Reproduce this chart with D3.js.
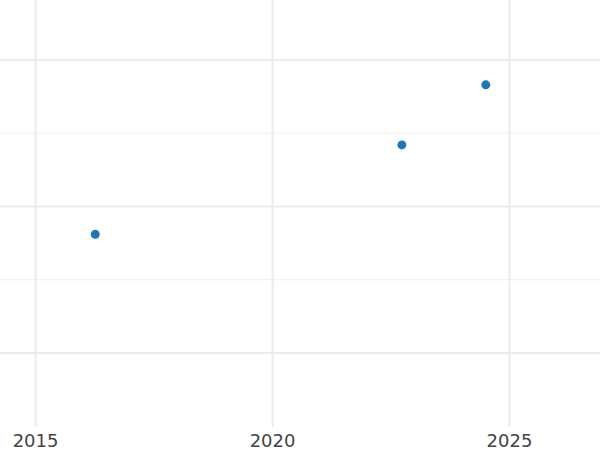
<!DOCTYPE html>
<html>
<head>
<meta charset="utf-8">
<script src="https://cdn.jsdelivr.net/npm/d3@7"></script>
<style>
  html, body { margin: 0; padding: 0; background: #fff; }
  svg { display: block; }
  .tick text { font-family: "DejaVu Sans", sans-serif; font-size: 18px; fill: #444; }
</style>
</head>
<body>
<script>
// data
const years = [2016.27, 2022.74, 2024.51];
const values = [8.1, 14.2, 18.3];
const xTicks = [2015, 2020, 2025];
const yMajor = [0, 10, 20];
const yMinor = [5, 15];

var width = 600, height = 450;
var plotBottom = 427;

var svg = d3.select("body").append("svg")
    .attr("width", width)
    .attr("height", height);

var x = d3.scaleLinear()
    .domain([2014.26, 2026.92])
    .range([0, width]);

var y = d3.scaleLinear()
    .domain([-5.05, 24.09])
    .range([plotBottom, 0]);

// minor horizontal grid
svg.append("g").selectAll("line")
    .data(yMinor)
    .enter().append("line")
    .attr("x1", 0).attr("x2", width)
    .attr("y1", d => y(d)).attr("y2", d => y(d))
    .style("stroke", "#ededed")
    .style("stroke-width", 1);

// major horizontal grid
svg.append("g").selectAll("line")
    .data(yMajor)
    .enter().append("line")
    .attr("x1", 0).attr("x2", width)
    .attr("y1", d => y(d)).attr("y2", d => y(d))
    .style("stroke", "#ebebeb")
    .style("stroke-width", 2);

// x axis with grid lines
var xAxis = d3.axisBottom(x)
    .tickValues(xTicks)
    .tickFormat(d3.format("d"))
    .tickSize(plotBottom)
    .tickPadding(7);

var gx = svg.append("g").call(xAxis);
gx.select(".domain").remove();
gx.selectAll(".tick line")
    .style("stroke", "#ebebeb")
    .style("stroke-width", 2);

// points
svg.append("g").selectAll("circle")
    .data(years)
    .enter().append("circle")
    .attr("cx", d => x(d))
    .attr("cy", (d, i) => y(values[i]))
    .attr("r", 4.5)
    .style("fill", "#1f77b4");
</script>
</body>
</html>
